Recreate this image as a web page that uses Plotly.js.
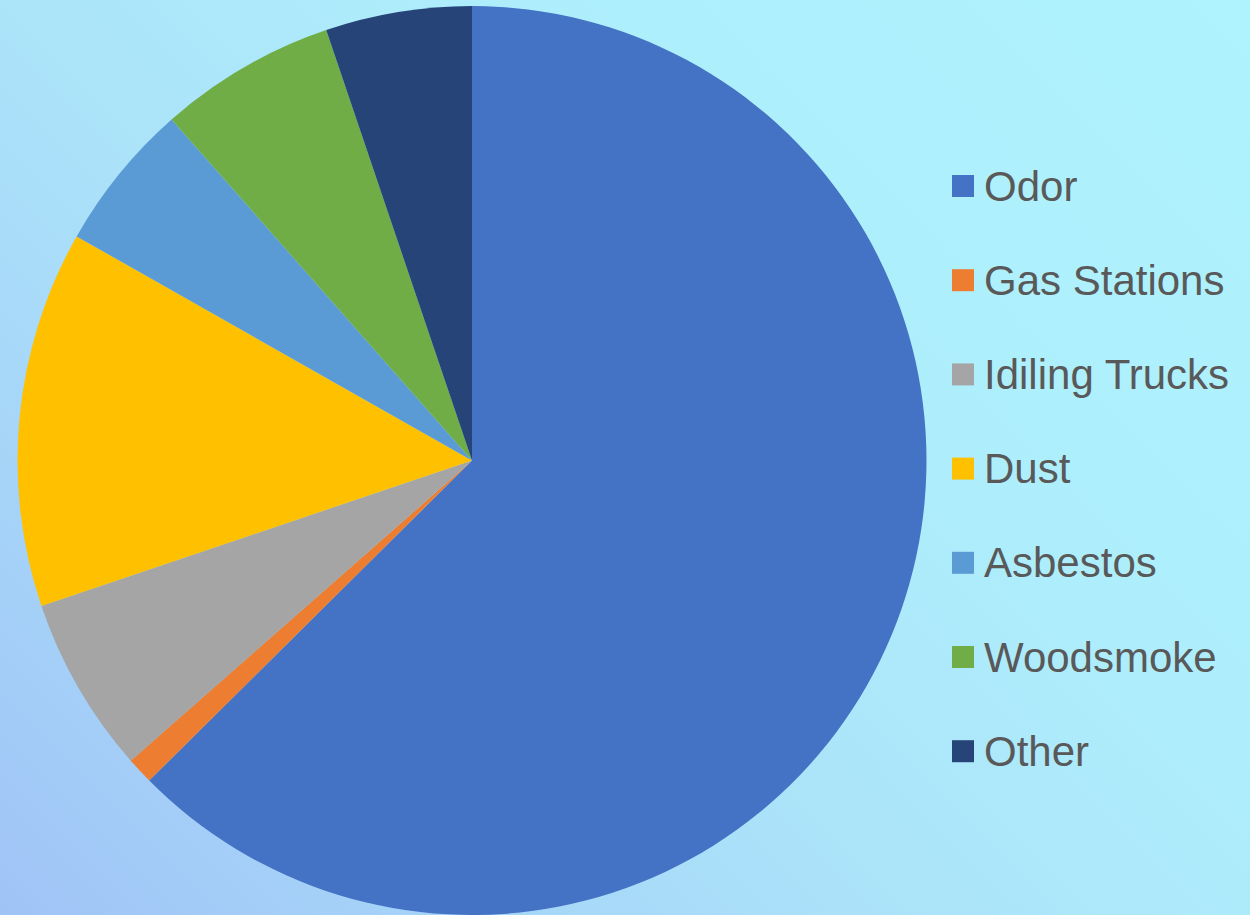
<!DOCTYPE html>
<html>
<head>
<meta charset="utf-8">
<script src="https://cdn.plot.ly/plotly-3.0.1.min.js"></script>
<style>
  html, body { margin: 0; padding: 0; width: 1250px; height: 915px; overflow: hidden; }
  body {
    background: linear-gradient(225deg, #aef3fd 0%, #aeeefc 35%, #abe2f9 60%, #a5d2f8 82%, #a0c3f6 100%);
  }
  #chart { width: 1250px; height: 915px; }
</style>
</head>
<body>
<div id="chart"></div>
<script>
const labels = ["Odor", "Gas Stations", "Idiling Trucks", "Dust", "Asbestos", "Woodsmoke", "Other"];
const values = [62.6, 0.95, 6.3, 13.4, 5.3, 6.3, 5.2];
const colors = ["#4472C4", "#ED7D31", "#A5A5A5", "#FFC000", "#5B9BD5", "#70AD47", "#264478"];

const W = 1250, H = 915;
const legendX = 952, legendTop = 186, legendStep = 94.2, box = 22;

const shapes = [];
const annotations = [];
labels.forEach((lab, i) => {
  const cy = legendTop + i * legendStep;
  shapes.push({
    type: "rect", xref: "paper", yref: "paper",
    x0: legendX / W, x1: (legendX + box) / W,
    y0: 1 - (cy + box / 2) / H, y1: 1 - (cy - box / 2) / H,
    fillcolor: colors[i], line: { width: 0 }
  });
  annotations.push({
    xref: "paper", yref: "paper",
    x: (legendX + 30) / W, y: 1 - (cy) / H,
    xanchor: "left", yanchor: "middle",
    text: lab, showarrow: false,
    font: { family: "Liberation Sans, Arial, sans-serif", size: 42, color: "#595959" }
  });
});

const data = [{
  type: "pie",
  labels: labels,
  values: values,
  sort: false,
  direction: "clockwise",
  rotation: 0,
  marker: { colors: colors, line: { width: 0 } },
  textinfo: "none",
  hoverinfo: "label+percent",
  showlegend: false,
  domain: { x: [0.0140, 0.7412], y: [0, 0.9934] }
}];

const layout = {
  width: W, height: H,
  margin: { l: 0, r: 0, t: 0, b: 0 },
  paper_bgcolor: "rgba(0,0,0,0)",
  plot_bgcolor: "rgba(0,0,0,0)",
  showlegend: false,
  shapes: shapes,
  annotations: annotations
};

Plotly.newPlot("chart", data, layout, { displayModeBar: false, staticPlot: true });
</script>
</body>
</html>
